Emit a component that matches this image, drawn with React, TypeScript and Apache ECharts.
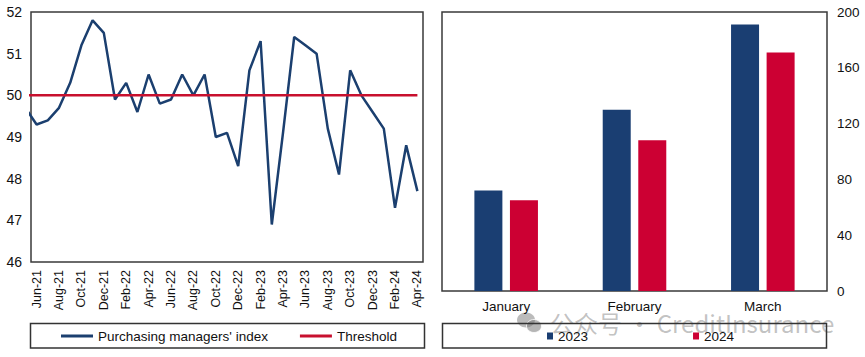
import React, { useEffect, useRef } from "react";
import * as echarts from "echarts";

const months = [
  "Jun-21", "Jul-21", "Aug-21", "Sep-21", "Oct-21", "Nov-21", "Dec-21",
  "Jan-22", "Feb-22", "Mar-22", "Apr-22", "May-22", "Jun-22", "Jul-22", "Aug-22", "Sep-22", "Oct-22", "Nov-22", "Dec-22",
  "Jan-23", "Feb-23", "Mar-23", "Apr-23", "May-23", "Jun-23", "Jul-23", "Aug-23", "Sep-23", "Oct-23", "Nov-23", "Dec-23",
  "Jan-24", "Feb-24", "Mar-24", "Apr-24",
];
const pmi = [
  49.3, 49.4, 49.7, 50.3, 51.2, 51.8, 51.5,
  49.9, 50.3, 49.6, 50.5, 49.8, 49.9, 50.5, 50.0, 50.5, 49.0, 49.1, 48.3,
  50.6, 51.3, 46.9, 49.1, 51.4, 51.2, 51.0, 49.2, 48.1, 50.6, 50.0, 49.6,
  49.2, 47.3, 48.8, 47.7,
];
// May-21 value, only partly visible at the left edge of the plot
const pmiPrior = 49.7;
const threshold = 50;

const barCategories = ["January", "February", "March"];
const bars2023 = [72, 130, 191];
const bars2024 = [65, 108, 171];

const FONT = '"Liberation Sans", Arial, sans-serif';
const TXT = "#111";

export default function App() {
  const ref = useRef<HTMLDivElement>(null);
  useEffect(() => {
    document.body.style.margin = "0";
    const chart = echarts.init(ref.current!, null, { renderer: "svg" });
    const lineData = [[-1, pmiPrior], ...pmi.map((v, i) => [i, v])];
    const thrData = [[-1, threshold], ...months.map((_, i) => [i, threshold])];
    chart.setOption({
      animation: false,
      textStyle: { fontFamily: FONT },
      grid: [
        { left: 31, top: 12, width: 392, height: 250, show: true, borderColor: "#3a3a3a", borderWidth: 1.5 },
        { left: 442, top: 12, width: 385, height: 279, show: true, borderColor: "#3a3a3a", borderWidth: 1.5 },
      ],
      xAxis: [
        {
          type: "category", gridIndex: 0, data: months, boundaryGap: true,
          axisLine: { show: false }, axisTick: { show: false }, splitLine: { show: false },
          axisLabel: { interval: 1, rotate: 90, fontSize: 12.5, color: TXT, margin: 8, fontFamily: FONT },
        },
        { type: "value", gridIndex: 0, min: -0.5, max: 34.5, show: false, splitLine: { show: false } },
        {
          type: "category", gridIndex: 1, data: barCategories,
          axisLine: { show: false }, axisTick: { show: false },
          axisLabel: { fontSize: 13.5, color: TXT, margin: 8, fontFamily: FONT },
        },
      ],
      yAxis: [
        {
          type: "value", gridIndex: 0, min: 46, max: 52, interval: 1,
          axisLine: { show: false }, axisTick: { show: false }, splitLine: { show: false },
          axisLabel: { fontSize: 14, color: TXT, margin: 9, fontFamily: FONT },
        },
        {
          type: "value", gridIndex: 1, position: "right", min: 0, max: 200, interval: 40,
          axisLine: { show: false }, axisTick: { show: false }, splitLine: { show: false },
          axisLabel: { fontSize: 13.5, color: TXT, margin: 10, fontFamily: FONT },
        },
      ],
      legend: [
        {
          data: ["Purchasing managers' index", "Threshold"],
          left: 61, top: 329, padding: 0, icon: "rect", itemWidth: 32, itemHeight: 3, itemGap: 32,
          textStyle: { fontSize: 13.5, color: TXT, fontFamily: FONT },
        },
        {
          data: ["2023", "2024"],
          left: 547, top: 329, padding: 0, icon: "rect", itemWidth: 6, itemHeight: 7, itemGap: 105,
          textStyle: { fontSize: 13.5, color: TXT, fontFamily: FONT },
        },
      ],
      series: [
        {
          name: "Purchasing managers' index", type: "line", xAxisIndex: 1, yAxisIndex: 0,
          data: lineData, symbol: "none", clip: true,
          lineStyle: { color: "#1b3f6f", width: 2.5 }, itemStyle: { color: "#1b3f6f" }, z: 3,
        },
        {
          name: "Threshold", type: "line", xAxisIndex: 1, yAxisIndex: 0,
          data: thrData, symbol: "none", clip: true,
          lineStyle: { color: "#c8102e", width: 2.5 }, itemStyle: { color: "#c8102e" }, z: 4,
        },
        {
          name: "2023", type: "bar", xAxisIndex: 2, yAxisIndex: 1, data: bars2023,
          barWidth: 28, barGap: "27%", itemStyle: { color: "#1a3e72" },
        },
        {
          name: "2024", type: "bar", xAxisIndex: 2, yAxisIndex: 1, data: bars2024,
          barWidth: 28, barGap: "27%", itemStyle: { color: "#cc0033" },
        },
      ],
      graphic: [
        {
          type: "rect", shape: { x: 30.5, y: 323.5, width: 394, height: 24.5 },
          style: { fill: "none", stroke: "#333", lineWidth: 1.5 }, z: 1,
        },
        {
          type: "rect", shape: { x: 442.5, y: 323.5, width: 384, height: 24.5 },
          style: { fill: "none", stroke: "#333", lineWidth: 1.5 }, z: 1,
        },
        {
          type: "group", z: 100,
          children: [
            { type: "ellipse", shape: { cx: 526, cy: 320, rx: 9, ry: 7.5 }, style: { fill: "rgba(120,120,120,0.5)" } },
            { type: "ellipse", shape: { cx: 534, cy: 326, rx: 7.5, ry: 6.5 }, style: { fill: "rgba(120,120,120,0.55)", stroke: "rgba(255,255,255,0.8)", lineWidth: 1 } },
            {
              type: "text", x: 550, y: 322,
              style: {
                text: "公众号 · CreditInsurance",
                font: '24px "Noto Sans CJK SC"',
                fill: "rgba(120,120,120,0.45)",
                verticalAlign: "middle",
              },
            },
          ],
        },
      ],
    });
    return () => chart.dispose();
  }, []);
  return <div ref={ref} style={{ width: 865, height: 357 }} />;
}
